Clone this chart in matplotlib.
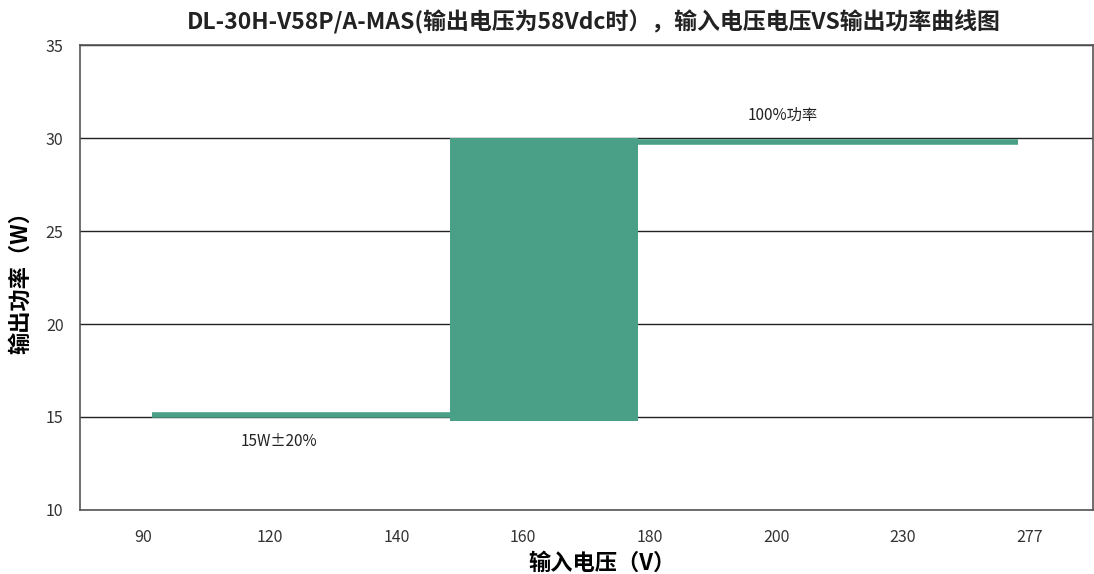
import matplotlib.pyplot as plt
import numpy as np

plt.rcParams['font.family'] = ['Noto Sans CJK SC', 'DejaVu Sans']

# categories on the x axis (input voltage)
voltages = ['90', '120', '140', '160', '180', '200', '230', '277']

# curve pieces, x in category index units
low_x = [0.07, 2.42]
low_y = [15.1, 15.1]
band_x = [2.42, 3.91]
band_lo = [14.8, 14.8]
band_hi = [30.0, 30.0]
high_x = [3.91, 6.91]
high_y = [29.8, 29.8]

green = '#49a086'

fig = plt.figure(figsize=(10.94, 5.74), dpi=100)
ax = fig.add_axes([0.0733, 0.1115, 0.9255, 0.8101])

ax.plot(low_x, low_y, color=green, lw=4, solid_capstyle='butt')
ax.fill_between(band_x, band_lo, band_hi, color=green, lw=0)
ax.plot(high_x, high_y, color=green, lw=4, solid_capstyle='butt')

ax.set_xlim(-0.5, len(voltages) - 0.5)
ax.set_ylim(10, 35)
ax.set_xticks(range(len(voltages)))
ax.set_xticklabels(voltages)
ax.set_yticks([10, 15, 20, 25, 30, 35])
ax.tick_params(length=0, labelsize=11.5, colors='#333333')
ax.tick_params(axis='y', pad=12)
ax.tick_params(axis='x', pad=14)
ax.yaxis.grid(True, color='#222222', lw=1)
ax.set_axisbelow(True)
for s in ax.spines.values():
    s.set_color('#555555')
    s.set_linewidth(1.2)

ax.text(1.07, 13.7, '15W±20%', ha='center', va='center', fontsize=11, color='#222222')
ax.text(5.05, 31.2, '100%功率', ha='center', va='center', fontsize=11, color='#222222')

fig.text(0.543, 0.962, 'DL-30H-V58P/A-MAS(输出电压为58Vdc时），输入电压电压VS输出功率曲线图',
         ha='center', va='center', fontsize=16.5, fontweight='bold', color='#222222')
ax.set_xlabel('输入电压（V）', fontsize=16, fontweight='bold')
ax.xaxis.set_label_coords(0.515, -0.09)
ax.set_ylabel('输出功率（W）', fontsize=16, fontweight='bold', labelpad=10)

plt.savefig('out.png')
